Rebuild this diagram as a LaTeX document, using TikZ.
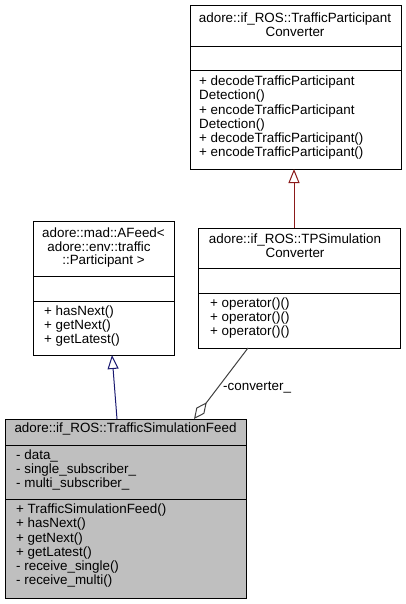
\documentclass[tikz,border=0pt]{standalone}
\usepackage{fontspec}
\setmainfont{Liberation Sans}
\usetikzlibrary{arrows.meta}
\definecolor{hdrgray}{HTML}{BFBFBF}
\definecolor{inhblue}{HTML}{191970}
\definecolor{inhred}{HTML}{8B1A1A}
\definecolor{aggray}{HTML}{404040}
\begin{document}
\begin{tikzpicture}[x=1pt,y=-1pt,
  font=\fontsize{13.4}{14.2}\selectfont,
  umlbox/.style={draw=black, line width=1pt, inner sep=0pt, anchor=north west},
  mem/.style={anchor=mid west, inner sep=0pt},
  hdr/.style={anchor=mid, inner sep=0pt},
  sepline/.style={draw=black, line width=1pt},
  inherit/.style={line width=1pt, -{Triangle[open, length=14pt, width=11pt]}},
  aggr/.style={line width=1pt, draw=aggray, {Diamond[open, length=21pt, width=10pt]}-}
]
\useasboundingbox (0,0) rectangle (406,604);

% TrafficParticipantConverter
\node[umlbox, minimum width=211pt, minimum height=164pt] (tpc) at (190,5) {};
\draw[sepline] (190,47) -- (401,47);
\draw[sepline] (190,71) -- (401,71);
\node[hdr] (tpch1) at (295,20) {adore::if\_ROS::TrafficParticipant};
\node[hdr] (tpch2) at (295,33.5) {Converter};
\node[mem] (tpcm1) at (199,83) {+ decodeTrafficParticipant};
\node[mem] (tpcm2) at (199,97.2) {Detection()};
\node[mem] (tpcm3) at (199,111.4) {+ encodeTrafficParticipant};
\node[mem] (tpcm4) at (199,125.6) {Detection()};
\node[mem] (tpcm5) at (199,139.8) {+ decodeTrafficParticipant()};
\node[mem] (tpcm6) at (199,154) {+ encodeTrafficParticipant()};

% AFeed
\node[umlbox, minimum width=141pt, minimum height=134pt] (afeed) at (33,221) {};
\draw[sepline] (33,276) -- (174,276);
\draw[sepline] (33,301) -- (174,301);
\node[hdr] (afh1) at (103.5,235) {adore::mad::AFeed<};
\node[hdr] (afh2) at (99,248.5) {adore::env::traffic};
\node[hdr] (afh3) at (103.5,262) {::Participant >};
\node[mem] (afm1) at (44,312.5) {+ hasNext()};
\node[mem] (afm2) at (44,326.7) {+ getNext()};
\node[mem] (afm3) at (44,340.9) {+ getLatest()};

% TPSimulationConverter
\node[umlbox, minimum width=202pt, minimum height=120pt] (tps) at (198,228) {};
\draw[sepline] (198,268) -- (400,268);
\draw[sepline] (198,293) -- (400,293);
\node[hdr] (tpsh1) at (295,241) {adore::if\_ROS::TPSimulation};
\node[hdr] (tpsh2) at (295,254.5) {Converter};
\node[mem] (tpsm1) at (210,305) {+ operator()()};
\node[mem] (tpsm2) at (210,319) {+ operator()()};
\node[mem] (tpsm3) at (210,333) {+ operator()()};

% TrafficSimulationFeed
\node[umlbox, fill=hdrgray, minimum width=241pt, minimum height=179pt] (tsf) at (5,419) {};
\draw[sepline] (5,445) -- (246,445);
\draw[sepline] (5,499) -- (246,499);
\node[hdr] (tsfh) at (125.5,430) {adore::if\_ROS::TrafficSimulationFeed};
\node[mem] (tsfa1) at (16,457) {- data\_};
\node[mem] (tsfa2) at (16,471) {- single\_subscriber\_};
\node[mem] (tsfa3) at (16,485) {- multi\_subscriber\_};
\node[mem] (tsfm1) at (16,511) {+ TrafficSimulationFeed()};
\node[mem] (tsfm2) at (16,525.2) {+ hasNext()};
\node[mem] (tsfm3) at (16,539.4) {+ getNext()};
\node[mem] (tsfm4) at (16,553.6) {+ getLatest()};
\node[mem] (tsfm5) at (16,567.8) {- receive\_single()};
\node[mem] (tsfm6) at (16,582) {- receive\_multi()};

% connectors
\coordinate (tsfInh) at (117,419);
\coordinate (afeedIn) at (112,355);
\draw[inherit, draw=inhblue] (tsfInh) -- (afeedIn);
\coordinate (tpsInh) at (294,228);
\coordinate (tpcIn) at (294,169);
\draw[inherit, draw=inhred] (tpsInh) -- (tpcIn);
\coordinate (tsfAgg) at (194,419);
\coordinate (tpsOut) at (248,348);
\draw[aggr] (tsfAgg) -- (tpsOut);
\node[anchor=mid west, inner sep=0pt] (convlbl) at (223,388) {-converter\_};
\end{tikzpicture}
\end{document}
